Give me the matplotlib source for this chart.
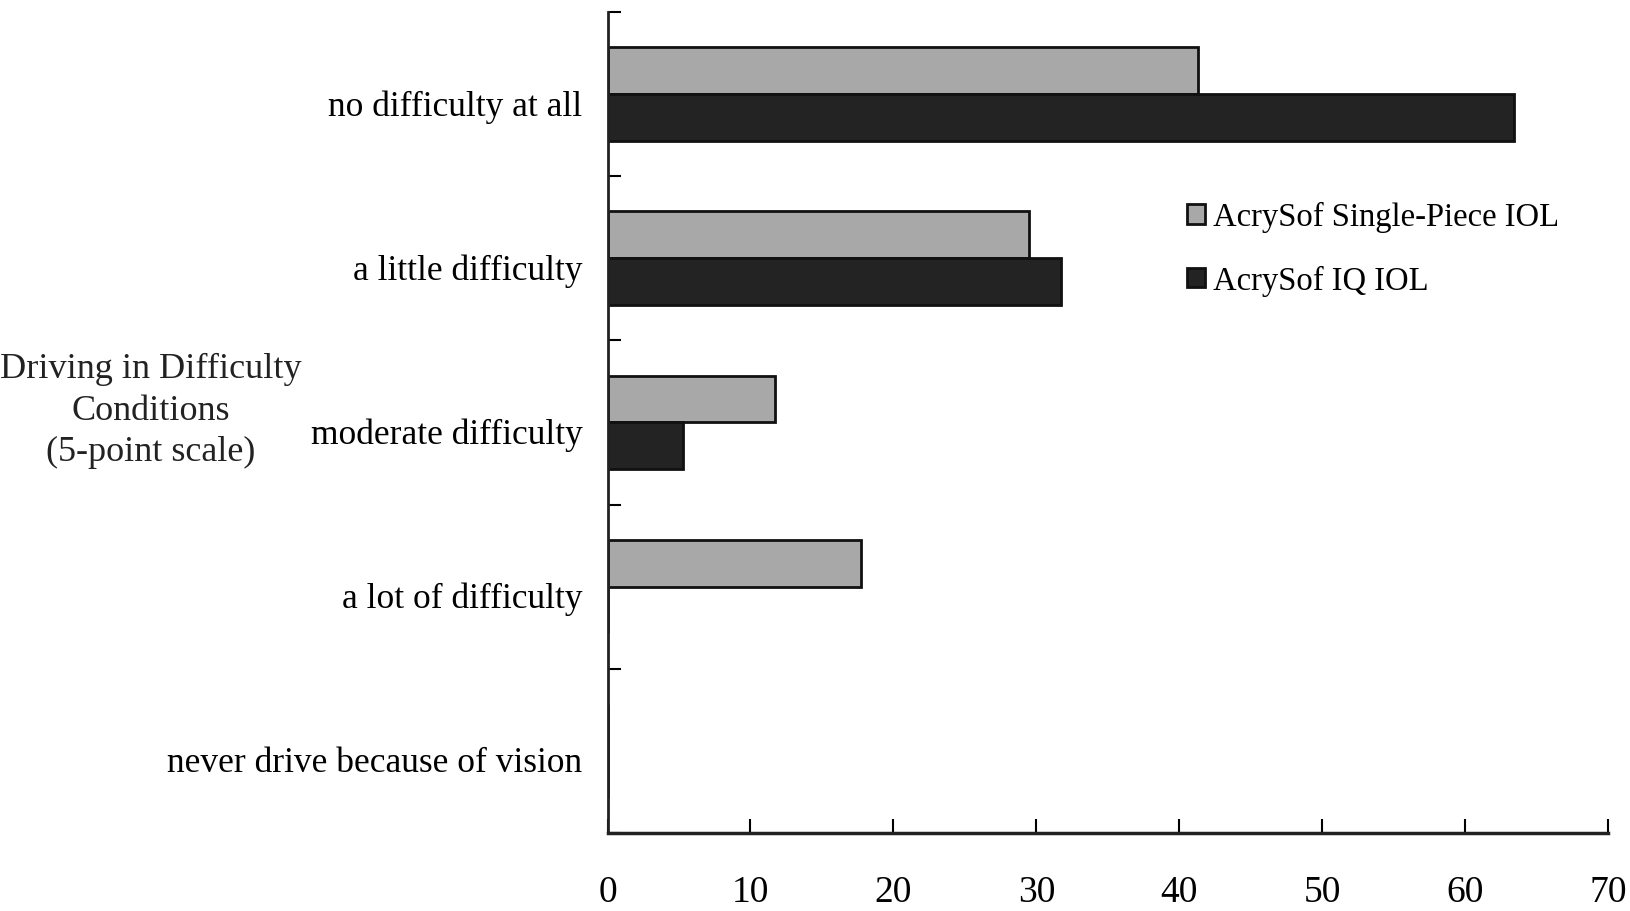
#!/usr/bin/env python

import numpy as np
import matplotlib
matplotlib.use('Agg')
import matplotlib.pyplot as plt
from matplotlib.transforms import ScaledTranslation

categories = ['no difficulty at all', 'a little difficulty', 'moderate difficulty',
              'a lot of difficulty', 'never drive because of vision']
single_piece = [41.3, 29.5, 11.7, 17.7, 0.0]
iq_iol = [63.4, 31.7, 5.3, 0.0, 0.0]
series_names = ['AcrySof Single-Piece IOL', 'AcrySof IQ IOL']
x_ticks = [0, 10, 20, 30, 40, 50, 60, 70]

plt.rcParams['font.family'] = ['Liberation Serif', 'DejaVu Serif']

fig = plt.figure(figsize=(16.31, 9.12), dpi=100)
ax = fig.add_axes([0.3725, 0.0855, 0.6135, 0.9005])

n_cat = len(categories)
y_pos = np.arange(n_cat)
bar_h = 0.285
ax.barh(y_pos - bar_h / 2, single_piece, height=bar_h, color='#a8a8a8',
        edgecolor='#111111', linewidth=2, label=series_names[0])
ax.barh(y_pos + bar_h / 2, iq_iol, height=bar_h, color='#232323',
        edgecolor='#111111', linewidth=2, label=series_names[1])

ax.set_ylim(n_cat - 0.5, -0.5)
ax.set_xlim(0, 70)

# category boundaries get the tick marks, centres get the labels
ax.set_yticks(np.arange(-0.5, n_cat, 1.0))
ax.set_yticklabels([])
ax.set_yticks(y_pos, minor=True)
ax.set_yticklabels(categories, minor=True, fontsize=25.5)
ax.tick_params(axis='y', which='major', direction='in', length=9, width=1.5)
ax.tick_params(axis='y', which='minor', length=0, pad=18)
shift = ScaledTranslation(0, -0.08, fig.dpi_scale_trans)
for lbl in ax.get_yticklabels(minor=True):
    lbl.set_transform(lbl.get_transform() + shift)

ax.set_xticks(x_ticks)
ax.set_xticklabels([str(v) for v in x_ticks], fontsize=27)
ax.tick_params(axis='x', direction='in', length=10, width=1.5, pad=30)

for side in ['top', 'right']:
    ax.spines[side].set_visible(False)
ax.spines['left'].set_linewidth(2)
ax.spines['bottom'].set_linewidth(2.5)
ax.spines['left'].set_color('#222222')
ax.spines['bottom'].set_color('#222222')

fig.text(151 / 1631, 1 - 411 / 912, 'Driving in Difficulty\nConditions\n(5-point scale)',
         ha='center', va='center', fontsize=26, linespacing=1.33, color='#222222')

leg = ax.legend(loc='upper left', bbox_to_anchor=(0.566, 0.785), frameon=False,
                fontsize=23.5, handlelength=0.55, handleheight=0.55,
                handletextpad=0.25, labelspacing=1.0, borderaxespad=0)
for h in leg.legend_handles:
    h.set_linewidth(2)

fig.savefig('out.png', dpi=100, facecolor='white')
